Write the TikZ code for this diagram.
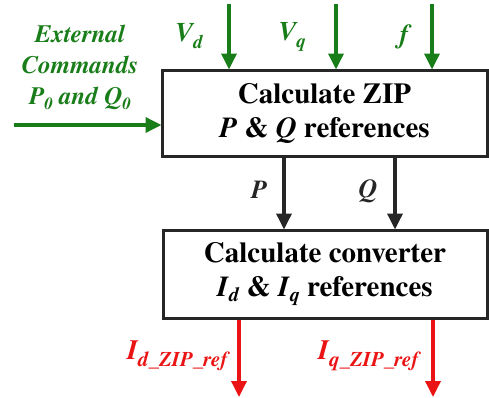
\documentclass[tikz,border=0pt]{standalone}
\usepackage{fontspec}
\setmainfont{texgyretermes}[Extension=.otf, UprightFont=*-regular, BoldFont=*-bold, ItalicFont=*-italic, BoldItalicFont=*-bolditalic]
\usetikzlibrary{arrows.meta}
\definecolor{dgreen}{RGB}{25,125,25}
\definecolor{rred}{RGB}{235,20,20}
\newcommand{\mysub}[3]{\raisebox{-#1}{\fontsize{#2}{#2}\selectfont #3}}
\tikzset{
  blk/.style={draw=black!85, line width=3pt, rectangle, inner sep=0pt, align=center,
    font=\fontsize{29}{34}\selectfont\bfseries},
  garrow/.style={draw=dgreen, line width=3.5pt, -{Triangle[width=15pt,length=16pt]}, shorten >=-1pt},
  karrow/.style={draw=black!85, line width=3.5pt, -{Triangle[width=15pt,length=16pt]}, shorten >=-1pt},
  rarrow/.style={draw=rred, line width=3.5pt, -{Triangle[width=15pt,length=16pt]}},
  glabel/.style={text=dgreen, font=\fontsize{25}{31}\selectfont\bfseries\itshape, align=center, inner sep=0pt},
  klabel/.style={text=black!85, font=\fontsize{26}{30}\selectfont\bfseries\itshape, inner sep=0pt},
  rlabel/.style={text=rred, font=\fontsize{28}{30}\selectfont\bfseries\itshape, inner sep=0pt},
}
\begin{document}
\begin{tikzpicture}[x=1pt,y=-1pt]
\useasboundingbox (0,0) rectangle (489,397);
% blocks
\node[blk, minimum width=325pt, minimum height=86pt] (zip) at (324.5,113)
  {Calculate ZIP\\ \textit{P} \& \textit{Q} references};
\node[blk, minimum width=324pt, minimum height=88pt] (conv) at (325,274)
  {Calculate converter\\ \textit{I}\mysub{5pt}{20}{\textit{d}} \& \textit{I}\mysub{5pt}{20}{\textit{q}} references};
% input coordinates
\coordinate (vdtop) at (229,4);
\coordinate (vqtop) at (336,4);
\coordinate (ftop) at (432,4);
\coordinate (extl) at (14,125);
\coordinate (pout) at (239,397);
\coordinate (qout) at (433,397);
% green arrows
\draw[garrow] (vdtop) -- (vdtop |- zip.north);
\draw[garrow] (vqtop) -- (vqtop |- zip.north);
\draw[garrow] (ftop) -- (ftop |- zip.north);
\draw[garrow] (extl) -- (extl -| zip.west);
% black arrows
\coordinate (px) at (284,0);
\coordinate (qx) at (395,0);
\draw[karrow] (px |- zip.south) -- (px |- conv.north);
\draw[karrow] (qx |- zip.south) -- (qx |- conv.north);
% red arrows
\draw[rarrow] (pout |- conv.south) -- (pout);
\draw[rarrow] (qout |- conv.south) -- (qout);
% labels
\node[glabel] (ext) at (80,67) {External\\Commands\\P\mysub{5pt}{17}{0} and Q\mysub{5pt}{17}{0}};
\node[glabel, font=\fontsize{27}{31}\selectfont\bfseries\itshape] (vd) at (189,36) {V\mysub{7pt}{19}{d}};
\node[glabel, font=\fontsize{27}{31}\selectfont\bfseries\itshape] (vq) at (292,37) {V\mysub{7pt}{19}{q}};
\node[glabel, font=\fontsize{27}{31}\selectfont\bfseries\itshape] (fl) at (404,37) {f};
\node[klabel] (pl) at (259,190) {P};
\node[klabel] (ql) at (368,191) {Q};
\node[rlabel, anchor=west] (idl) at (127,356) {I\mysub{7pt}{21}{d\_ZIP\_ref}};
\node[rlabel, anchor=west] (iql) at (318,356) {I\mysub{7pt}{21}{q\_ZIP\_ref}};
\end{tikzpicture}
\end{document}
